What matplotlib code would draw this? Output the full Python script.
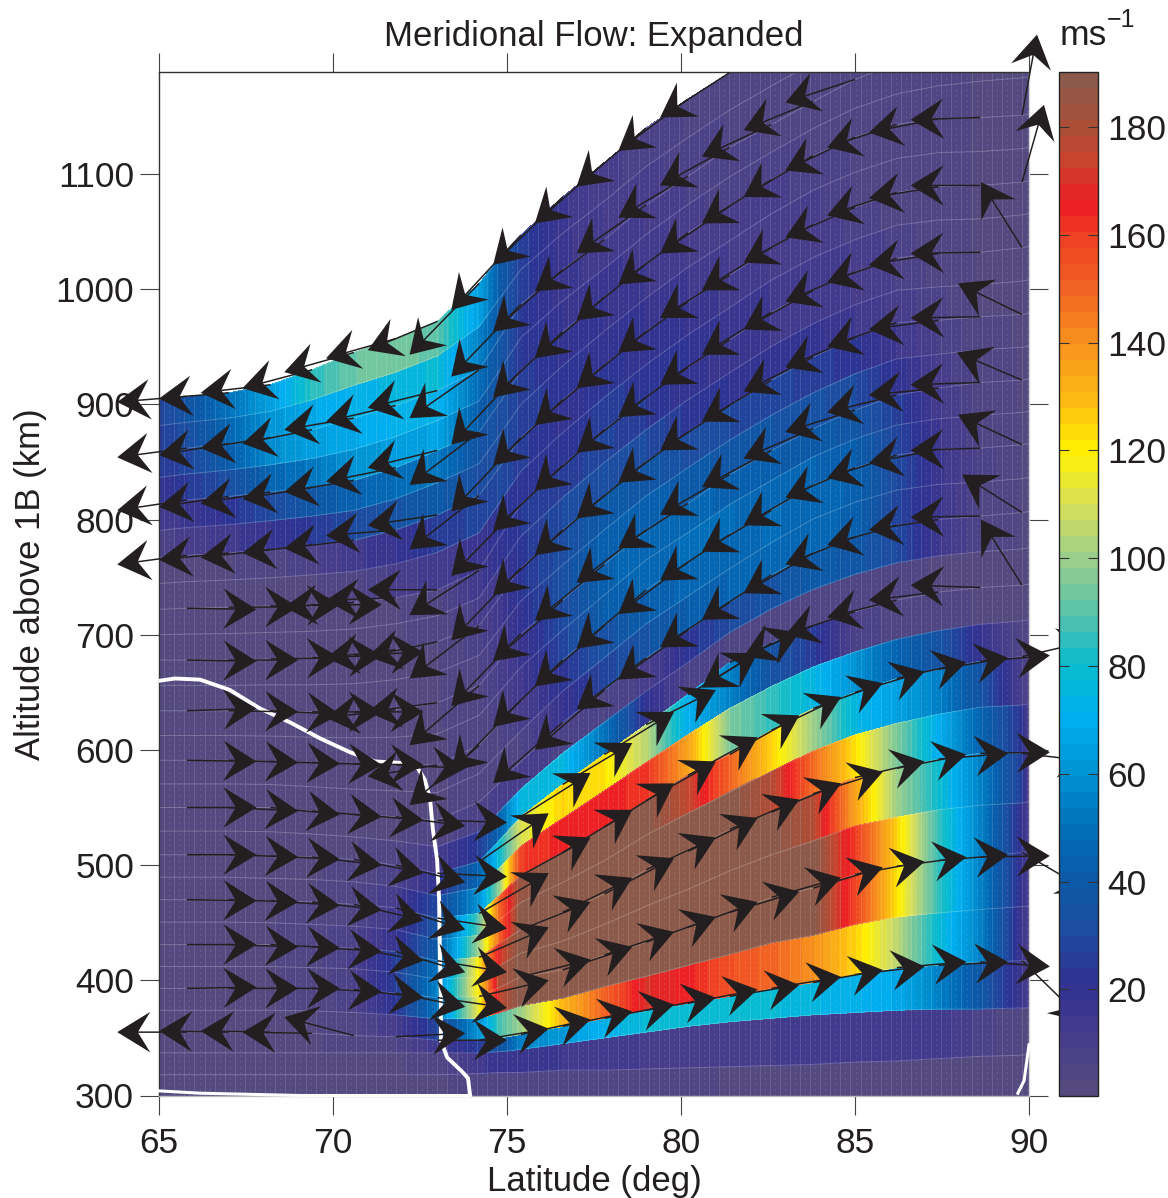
import matplotlib
import numpy as np

matplotlib.use('Agg')
import matplotlib.pyplot as plt
from matplotlib.cm import ScalarMappable
from matplotlib.colors import LinearSegmentedColormap, Normalize

plt.rcParams['font.family'] = ['Liberation Sans', 'DejaVu Sans']
plt.rcParams['mathtext.default'] = 'regular'

TEXT = '#231f20'

# Model grid: latitude columns and the altitude of the pressure levels (km)
mesh_lat = [65, 65.8, 67, 68.2, 69.4, 70.6, 71.8, 73, 74.2, 74.8, 75.4, 76.6, 77.8, 79, 80.2, 81.4, 82.6, 83.8, 85, 86.2, 87.4, 88.6, 89.8, 90]
base_alt = [300] * 24
low_alt_1 = [318, 318, 318, 318, 318, 318, 318, 318, 319, 320, 320, 322, 322, 323, 324, 325, 326, 327, 329, 330, 332, 334, 335, 336]
low_alt_2 = [337, 337, 337, 337, 337, 337, 337, 337, 337, 338, 340, 345, 350, 355, 360, 364, 367, 370, 372, 374, 375, 375, 376, 376]
level_alt = [
    [355, 355, 355, 355, 354, 352, 351, 348, 348, 350, 353, 360, 367, 374, 380, 386, 393, 398, 405, 411, 413, 416, 417, 417],
    [393, 393, 393, 393, 393, 392, 389, 385, 386, 394, 403, 409, 422, 433, 446, 459, 472, 480, 492, 499, 504, 507, 511, 512],
    [431, 431, 431, 431, 429, 428, 425, 417, 420, 432, 444, 459, 475, 496, 512, 531, 546, 562, 576, 584, 592, 597, 597, 598],
    [470, 470, 470, 469, 468, 466, 463, 454, 458, 474, 491, 511, 533, 556, 578, 596, 617, 636, 650, 662, 670, 677, 681, 682],
    [509, 509, 509, 508, 507, 505, 500, 493, 503, 522, 542, 570, 596, 622, 648, 676, 693, 708, 720, 730, 737, 741, 743, 744],
    [550, 550, 550, 550, 547, 544, 542, 539, 555, 572, 590, 624, 652, 680, 704, 728, 752, 771, 785, 795, 800, 803, 806, 807],
    [591, 591, 591, 590, 589, 588, 587, 587, 604, 624, 643, 678, 708, 739, 763, 787, 808, 830, 845, 856, 861, 862, 865, 866],
    [634, 634, 634, 634, 633, 633, 635, 641, 656, 678, 701, 730, 761, 791, 814, 839, 860, 879, 895, 908, 914, 919, 921, 922],
    [678, 678, 678, 679, 680, 682, 687, 694, 708, 733, 758, 791, 821, 850, 876, 899, 921, 941, 958, 971, 973, 976, 978, 979],
    [722, 723, 724, 725, 726, 728, 732, 739, 756, 785, 813, 847, 878, 906, 932, 956, 980, 999, 1015, 1027, 1031, 1032, 1036, 1037],
    [767, 769, 771, 774, 778, 782, 791, 804, 821, 846, 871, 904, 934, 963, 989, 1012, 1036, 1056, 1071, 1084, 1089, 1090, 1093, 1094],
    [814, 817, 820, 824, 828, 834, 845, 860, 876, 902, 929, 963, 993, 1022, 1049, 1072, 1095, 1116, 1132, 1143, 1148, 1149, 1151, 1152],
    [859, 862, 866, 871, 878, 888, 899, 912, 930, 958, 987, 1017, 1043, 1073, 1098, 1123, 1143, 1163, 1182, 1196, 1205, 1212, 1216, 1217],
    [904, 907, 910, 917, 930, 945, 957, 972, 1005, 1027, 1047, 1080, 1110, 1140, 1165, 1188, 1210, 1230, 1250, 1265, 1275, 1283, 1292, 1293],
]

# Meridional speed (m/s) per band, bottom band first
speed = [
    [3, 3, 3, 3, 3, 3, 3, 3, 4, 5, 5, 5, 5, 4, 4, 3, 3, 3, 3, 3, 3, 3, 3, 3],
    [2, 2, 2, 2, 2, 3, 3, 4, 14, 18, 18, 15, 13, 12, 12, 12, 12, 14, 15, 15, 14, 8, 3, 3],
    [2, 2, 2, 2, 3, 4, 6, 14, 25, 35, 55, 62, 72, 78, 80, 80, 78, 75, 72, 68, 55, 38, 15, 10],
    [3, 3, 3, 3, 3, 5, 12, 28, 60, 88, 100, 130, 150, 170, 165, 155, 150, 140, 125, 105, 78, 55, 15, 10],
    [3, 3, 3, 3, 4, 8, 22, 50, 115, 175, 190, 190, 190, 190, 190, 190, 190, 190, 158, 122, 85, 55, 18, 8],
    [3, 3, 3, 3, 4, 9, 25, 55, 120, 180, 190, 190, 190, 190, 190, 190, 190, 190, 160, 125, 85, 55, 18, 8],
    [3, 3, 3, 3, 5, 10, 25, 50, 120, 170, 190, 190, 190, 190, 190, 190, 190, 178, 135, 100, 80, 55, 25, 6],
    [3, 3, 3, 3, 5, 8, 18, 40, 100, 150, 190, 190, 190, 190, 190, 190, 178, 148, 122, 95, 70, 45, 22, 5],
    [3, 3, 3, 3, 4, 6, 14, 35, 90, 150, 185, 190, 190, 190, 175, 150, 125, 100, 75, 65, 55, 35, 10, 4],
    [3, 3, 3, 3, 3, 5, 12, 30, 60, 100, 160, 165, 165, 162, 135, 95, 85, 75, 60, 45, 35, 18, 5, 3],
    [3, 3, 3, 3, 3, 4, 8, 20, 45, 80, 110, 125, 122, 105, 70, 55, 35, 25, 8, 5, 4, 3, 3, 3],
    [3, 3, 3, 3, 3, 3, 5, 12, 25, 45, 75, 75, 50, 20, 8, 6, 5, 5, 5, 4, 3, 3, 3, 3],
    [3, 3, 3, 3, 3, 3, 3, 5, 8, 10, 12, 8, 6, 10, 22, 30, 35, 40, 38, 30, 15, 6, 3, 3],
    [3, 3, 3, 3, 3, 3, 3, 3, 4, 5, 6, 18, 28, 35, 42, 45, 46, 46, 44, 28, 16, 6, 3, 3],
    [3, 3, 3, 3, 3, 3, 3, 3, 4, 6, 10, 22, 34, 42, 46, 47, 48, 47, 44, 30, 16, 8, 3, 3],
    [3, 3, 3, 3, 3, 3, 3, 3, 4, 8, 14, 28, 42, 47, 48, 48, 46, 45, 42, 28, 15, 6, 3, 3],
    [3, 3, 3, 3, 3, 3, 3, 3, 5, 10, 16, 30, 44, 47, 46, 44, 42, 41, 37, 26, 13, 5, 3, 3],
    [3, 3, 3, 3, 3, 3, 3, 3, 6, 12, 20, 33, 44, 44, 40, 38, 36, 34, 30, 20, 11, 5, 3, 3],
    [3, 3, 3, 3, 3, 3, 3, 3, 8, 14, 23, 32, 40, 38, 32, 30, 28, 26, 22, 15, 9, 4, 3, 3],
    [3, 3, 3, 3, 3, 3, 3, 4, 10, 16, 23, 30, 33, 30, 23, 21, 19, 19, 15, 11, 7, 3, 3, 3],
    [3, 3, 3, 3, 3, 3, 3, 5, 14, 20, 24, 26, 28, 24, 19, 17, 15, 14, 12, 9, 5, 3, 3, 3],
    [3, 3, 3, 3, 3, 5, 10, 14, 16, 22, 24, 22, 25, 23, 21, 17, 15, 13, 12, 8, 4, 3, 3, 3],
    [3, 3, 3, 5, 8, 14, 18, 25, 28, 30, 25, 20, 22, 20, 18, 14, 12, 12, 8, 5, 4, 3, 3, 3],
    [8, 10, 14, 18, 24, 30, 35, 40, 32, 32, 26, 22, 20, 18, 15, 12, 12, 10, 6, 5, 4, 3, 3, 3],
    [12, 16, 22, 30, 38, 44, 48, 52, 36, 32, 26, 20, 18, 15, 12, 10, 10, 8, 6, 5, 4, 3, 3, 3],
    [18, 24, 32, 45, 52, 60, 64, 66, 42, 34, 24, 18, 16, 14, 10, 8, 7, 6, 5, 5, 4, 3, 3, 3],
    [24, 28, 42, 58, 64, 68, 72, 72, 48, 36, 24, 16, 14, 12, 9, 7, 6, 5, 5, 4, 4, 3, 3, 3],
    [26, 32, 46, 60, 68, 72, 76, 78, 55, 38, 26, 16, 12, 10, 8, 6, 5, 5, 4, 4, 3, 3, 3, 3],
    [28, 36, 50, 64, 84, 92, 95, 90, 65, 40, 26, 16, 10, 8, 6, 5, 4, 4, 4, 3, 3, 3, 3, 3],
]

# Flow arrows: tail altitude and tip altitude per row, bottom row first
nan = float('nan')
arrow_lat = [65.8, 67.0, 68.2, 69.4, 70.6, 71.8, 73.0, 74.2, 75.4, 76.6, 77.8, 79.0, 80.2, 81.4, 82.6, 83.8, 85.0, 86.2, 87.4, 88.6, 89.8]
arrow_alt = [
    [355, 355, 355, 354, 352, 351, 348, 348, 353, 360, 367, 374, 380, 386, 393, 398, 405, 411, 413, 416, 417],
    [393, 393, 393, 393, 392, 389, 385, 386, 403, 409, 422, 433, 446, 459, 472, 480, 492, 499, 504, 507, 511],
    [431, 431, 431, 429, 428, 425, 417, 420, 444, 459, 475, 496, 512, 531, 546, 562, 576, 584, 592, 597, 597],
    [470, 470, 469, 468, 466, 463, 454, 458, 491, 511, 533, 556, 578, 596, 617, 636, 650, 662, 670, 677, 681],
    [509, 509, 508, 507, 505, 500, 493, 503, 542, 570, 596, 622, 648, 676, 693, 708, 720, 730, 737, 741, 743],
    [550, 550, 550, 547, 544, 542, 539, nan, nan, 624, 652, 680, 704, 728, 752, 771, 785, 795, 800, 803, 806],
    [591, 591, 590, 589, 588, 587, 587, 604, 643, 678, 708, 739, 763, 787, 808, 830, 845, 856, 861, 862, 865],
    [634, 634, 634, 633, 633, 635, 641, 656, 701, 730, 761, 791, 814, 839, 860, 879, 895, 908, 914, 919, 921],
    [678, 678, 679, 680, 682, 687, 694, 708, 758, 791, 821, 850, 876, 899, 921, 941, 958, 971, 973, 976, 978],
    [723, 724, 725, 726, 728, 732, 739, 756, 813, 847, 878, 906, 932, 956, 980, 999, 1015, 1027, 1031, 1032, 1036],
    [769, 771, 774, 778, 782, 791, 804, 821, 871, 904, 934, 963, 989, 1012, 1036, 1056, 1071, 1084, 1089, 1090, 1093],
    [817, 820, 824, 828, 834, 845, 860, 876, 929, 963, 993, 1022, 1049, 1072, 1095, 1116, 1132, 1143, 1148, 1149, 1151],
    [862, 866, 871, 878, 888, 899, 912, 930, 987, 1017, 1043, 1073, 1098, 1123, 1143, 1163, 1182, nan, nan, nan, nan],
    [907, 910, 917, 930, 945, 957, 972, 1005, 1047, 1080, 1110, 1140, 1165, 1188, nan, nan, nan, nan, nan, nan, nan],
]
arrow_tip_alt = [
    [355, 356, 356, 355, 368, 354, 348, 358, 366, 373, 379, 385, 392, 396, 403, 409, 412, 416, 416, 412, 364],
    [394, 393, 393, 390, 385, 377, 376, 400, 418, 429, 442, 455, 468, 477, 489, 498, 503, 507, 509, 508, 476],
    [431, 429, 428, 425, 417, 407, 407, 446, 468, 489, 506, 524, 541, 557, 571, 581, 590, 596, 597, 598, 590],
    [469, 468, 465, 461, 452, 444, 445, 493, 524, 548, 571, 590, 611, 630, 646, 658, 668, 676, 680, 682, 695],
    [509, 507, 505, 500, 493, 485, 490, 545, 580, 606, 633, 652, 684, 702, 654, 681, 700, 715, 730, 743, 800],
    [550, 547, 544, 542, 539, 534, 537, nan, nan, 571, 600, 635, 661, 689, 713, 736, 761, 778, 791, 802, 839],
    [590, 589, 588, 587, 587, 584, 577, 552, 581, 620, 655, 688, 718, 747, 772, 795, 819, 836, 849, 860, 891],
    [636, 633, 631, 633, 633, 628, 633, 604, 638, 677, 712, 745, 775, 804, 828, 853, 876, 893, 908, 917, 945],
    [677, 678, 680, 682, 685, 680, 681, 662, 695, 734, 769, 801, 832, 860, 885, 911, 932, 950, 965, 975, 1005],
    [722, 724, 726, 726, 724, 730, 739, 717, 751, 790, 825, 858, 889, 917, 943, 965, 989, 1006, 1021, 1031, 1093],
    [761, 765, 767, 771, 775, 786, 795, 774, 807, 847, 882, 914, 945, 975, 999, 1023, 1045, 1064, 1079, 1090, 1160],
    [808, 811, 814, 818, 824, 833, 845, 830, 865, 906, 940, 973, 1004, 1031, 1057, 1080, 1103, 1123, 1136, 1147, 1221],
    [854, 856, 862, 866, 878, 885, 897, 888, 924, 963, 998, 1031, 1062, 1090, 1115, 1138, 1162, nan, nan, nan, nan],
    [902, 905, 910, 914, 928, 940, 947, 943, 982, 1021, 1057, 1089, 1120, 1149, nan, nan, nan, nan, nan, nan, nan],
]
# Latitude extent of each arrow (deg), negative = equatorward
arrow_dlat = [
    [-2] * 5 + [2] * 15 + [1.8],
    [2] * 20 + [2],
    [2] * 20 + [2],
    [2] * 20 + [2],
    [2] * 14 + [-2] * 6 + [-1.18],
    [2] * 7 + [-2] * 13 + [-1.72],
    [2] * 6 + [-2] * 14 + [-1.84],
    [2] * 5 + [-2] * 15 + [-1.87],
    [2] * 5 + [-2] * 15 + [-1.84],
    [2] * 4 + [-2] * 16 + [-1.18],
    [-2] * 20 + [0.63],
    [-2] * 20 + [0.43],
    [-2] * 21,
    [-2] * 21,
]

# White zero-wind contour
contour_lat = [65, 65.46, 66.18, 67.04, 67.9, 68.76, 69.63, 70.49, 71.2, 71.78, 72.36, 72.64, 72.79, 72.87, 72.99, 73.05, 73.07, 73.1, 73.1, 73.28, 73.7, 73.88, 73.94]
contour_alt = [660, 662, 661, 652, 636, 624, 610, 598, 590, 589, 588, 574, 557, 531, 505, 470, 426, 383, 348, 333, 321, 315, 300]
contour_low_lat = [65, 66.18, 69.05, 73.94]
contour_low_alt = [304, 302, 300, 300]
contour_right_lat = [89.68, 89.86, 90]
contour_right_alt = [302, 313, 344]

speed_stops = [(0, '#544a80'), (10, '#473c8c'), (20, '#2e3192'), (30, '#1c4da0'), (40, '#0a5aa8'),
               (50, '#0072bc'), (60, '#0095d5'), (70, '#00aeef'), (80, '#0abccd'), (90, '#5cc3ab'),
               (100, '#9bcf8a'), (110, '#d8df5a'), (120, '#fff200'), (130, '#fdb913'), (140, '#f7941d'),
               (150, '#f26522'), (160, '#ef4123'), (167, '#ed1c24'), (175, '#c9442c'), (180, '#b04c35'),
               (190.2, '#8c5a4a')]
cmap = LinearSegmentedColormap.from_list('jets', [(v / 190.2, c) for v, c in speed_stops], N=64)
norm = Normalize(0.3, 190.2)
speed_levels = np.linspace(0.3, 190.2, 65)

fig = plt.figure(figsize=(11.68, 11.98), dpi=100)
ax = fig.add_axes([159 / 1168, 1 - 1095.5 / 1198, 870 / 1168, 1023.5 / 1198])

# Band edges: three low ones, then each level plus the half way surface above it
levels = np.array(level_alt, dtype=float)
edges = [np.array(base_alt, float), np.array(low_alt_1, float), np.array(low_alt_2, float)]
for i in range(len(levels) - 1):
    edges.append(levels[i])
    edges.append((levels[i] + levels[i + 1]) / 2)
edges.append(levels[-1])
edges = np.array(edges)

# Speed is constant across a band, so each band gets a bottom and a top row
eps = 0.02
grid_alt = np.empty((2 * len(speed), len(mesh_lat)))
grid_speed = np.empty(grid_alt.shape)
for i, row in enumerate(speed):
    grid_alt[2 * i] = edges[i] + eps
    grid_alt[2 * i + 1] = edges[i + 1] - eps
    grid_speed[2 * i] = row
    grid_speed[2 * i + 1] = row
grid_lat = np.tile(mesh_lat, (grid_alt.shape[0], 1))
ax.contourf(grid_lat, grid_alt, grid_speed, levels=speed_levels, cmap=cmap, norm=norm, extend='both', zorder=1)

# Faint cell lines seen in the original rendering
for edge in edges[1:]:
    ax.plot(mesh_lat, edge, color='white', alpha=0.22, lw=0.7, zorder=2)
cell_lat = np.arange(65.15, 90, 0.29)
cell_top = np.interp(cell_lat, mesh_lat, levels[-1])
ax.vlines(cell_lat, 300, cell_top, colors='white', alpha=0.13, lw=0.7, zorder=2)
ax.vlines(cell_lat + 0.145, 300, cell_top, colors='white', alpha=0.16, lw=0.5, linestyles=(0, (3, 5)), zorder=2)

ax.plot(contour_lat, contour_alt, color='white', lw=2.8, zorder=3)
ax.plot(contour_low_lat, contour_low_alt, color='white', lw=2.2, zorder=3, clip_on=False)
ax.plot(contour_right_lat, contour_right_alt, color='white', lw=2.2, zorder=3, clip_on=False)

tail_lat = np.tile(arrow_lat, (len(arrow_alt), 1)).ravel()
tail_alt = np.array(arrow_alt, float).ravel()
tip_alt = np.array(arrow_tip_alt, float).ravel()
dlat = np.array(arrow_dlat, float).ravel()
keep = np.isfinite(tail_alt)
ax.quiver(tail_lat[keep], tail_alt[keep], dlat[keep], (tip_alt - tail_alt)[keep],
          angles='xy', scale_units='xy', scale=1, units='dots', width=1.5,
          headwidth=27, headlength=22, headaxislength=14, color=TEXT,
          zorder=4, clip_on=False)

ax.set_xlim(65, 90)
ax.set_ylim(300, 1188.5)
ax.set_xticks([65, 70, 75, 80, 85, 90])
ax.set_yticks([300, 400, 500, 600, 700, 800, 900, 1000, 1100])
ax.tick_params(axis='both', which='major', direction='out', length=14, width=0.8, color='#444444',
               labelsize=25.5, labelcolor=TEXT, top=True, right=True)
ax.tick_params(axis='x', pad=9)
ax.tick_params(axis='y', pad=4)
for side, color in [('top', '#333333'), ('left', '#333333'), ('bottom', '#bbbbbb'), ('right', '#d8d8d8')]:
    ax.spines[side].set_color(color)
    ax.spines[side].set_linewidth(1.0)

ax.set_title('Meridional Flow: Expanded', fontsize=25, color=TEXT, pad=19, x=0.5, y=1.0)
ax.set_xlabel('Latitude (deg)', fontsize=25, color=TEXT)
ax.xaxis.set_label_coords(0.5, -0.0675)
ax.set_ylabel('Altitude above 1B (km)', fontsize=25, color=TEXT)
ax.yaxis.set_label_coords(-0.1293, 0.5)

# Colour bar sits on top of the arrows that run past the axes
cax = fig.add_axes([1059 / 1168, 1 - 1095.5 / 1198, 39 / 1168, 1023.5 / 1198], zorder=10)
cb = fig.colorbar(ScalarMappable(norm=norm, cmap=cmap), cax=cax)
cb.set_ticks([20, 40, 60, 80, 100, 120, 140, 160, 180])
cax.tick_params(axis='y', direction='in', length=7.5, width=0.8, color='#333333', left=True, right=True,
                labelsize=25.5, labelcolor=TEXT, pad=7)
cb.outline.set_edgecolor('#222222')
cb.outline.set_linewidth(1.0)
fig.text(1060 / 1168, 1 - 45 / 1198, 'ms', fontsize=25.5, color=TEXT, ha='left', va='baseline')
fig.text(1107 / 1168, 1 - 27 / 1198, '\u22121', fontsize=18, color=TEXT, ha='left', va='baseline')

fig.savefig('out.png', dpi=100)
